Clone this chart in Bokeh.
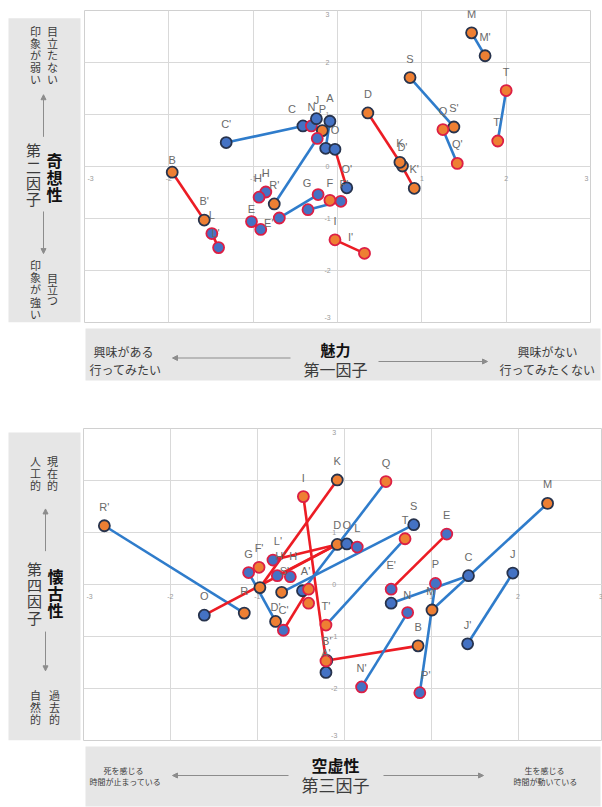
from bokeh.plotting import figure
from bokeh.layouts import column, row
from bokeh.models import Range1d, FixedTicker, Arrow, NormalHead, ColumnDataSource
from bokeh.core.properties import value
from bokeh.embed import file_html
from bokeh.resources import INLINE

# ---------------- data: factor 1 (魅力) x factor 2 (奇想性) ----------------
TOP_ID = ["B", "B'", "L", "L'", "C'", "C", "N", "J", "A", "P", "R", "A'", "O", "O'",
          "H", "H'", "E", "E'", "R'", "G'", "G", "F2", "F'", "F", "I", "I'",
          "M", "M'", "S", "S'", "Q", "Q'", "T", "T'", "D", "D'", "K", "K'"]
TOP_TEXT = ["B", "B'", "L", "L'", "C'", "C", "N", "J", "A", "P", "", "", "O", "O'",
            "H", "H'", "E", "E'", "R'", "", "G", "", "F'", "F", "I", "I'",
            "M", "M'", "S", "S'", "Q", "Q'", "T", "T'", "D", "D'", "K", "K'"]
TOP_X = [-1.96, -1.58, -1.49, -1.41, -1.32, -0.41, -0.31, -0.25, -0.09, -0.18, -0.24, -0.14, -0.03, 0.11,
         -0.85, -0.93, -1.02, -0.91, -0.75, -0.69, -0.23, -0.35, 0.04, -0.09, -0.03, 0.32,
         1.59, 1.75, 0.86, 1.38, 1.25, 1.42, 2.00, 1.90, 0.36, 0.77, 0.74, 0.91]
TOP_Y = [-0.11, -1.03, -1.29, -1.56, 0.46, 0.78, 0.78, 0.92, 0.87, 0.69, 0.54, 0.35, 0.33, -0.41,
         -0.49, -0.59, -1.06, -1.21, -0.72, -0.99, -0.54, -0.83, -0.67, -0.65, -1.41, -1.67,
         2.57, 2.13, 1.71, 0.76, 0.71, 0.06, 1.46, 0.49, 1.03, 0.01, 0.08, -0.42]
TOP_FILL = ["orange", "orange", "blue", "blue", "blue", "blue", "blue", "blue", "blue", "orange", "blue", "blue", "blue", "blue",
            "blue", "blue", "blue", "blue", "orange", "blue", "blue", "blue", "blue", "orange", "orange", "orange",
            "orange", "orange", "orange", "orange", "orange", "orange", "orange", "orange", "orange", "orange", "orange", "orange"]
TOP_EDGE = ["dark", "dark", "red", "red", "dark", "dark", "red", "dark", "dark", "dark", "red", "dark", "dark", "dark",
            "red", "red", "red", "red", "dark", "red", "red", "red", "red", "red", "red", "red",
            "dark", "dark", "dark", "dark", "red", "red", "red", "red", "dark", "dark", "dark", "dark"]
TOP_LINK_A = ["B", "L", "C'", "R", "G'", "F2", "I", "M", "S", "Q", "T", "D", "K", "O", "H", "E", "A"]
TOP_LINK_B = ["B'", "L'", "C", "R'", "G", "F'", "I'", "M'", "S'", "Q'", "T'", "D'", "K'", "O'", "H'", "E'", "A'"]
TOP_LINK_KIND = ["red", "red", "blue", "blue", "blue", "blue", "red", "blue", "blue", "blue", "blue",
                 "red", "red", "red", "red", "red", "blue"]

# ---------------- data: factor 3 (空虚性) x factor 4 (懐古性) ----------------
BOT_ID = ["R'", "R", "O", "F", "G", "F'", "L'", "H'", "H", "D'",
          "S'", "A'", "X", "C'", "C2", "I", "K", "T'", "B'", "A",
          "D", "Q'", "L", "Q", "S", "T", "E", "E'", "N", "P",
          "C", "M'", "M", "J", "J'", "N2", "N'", "B", "P'", "I'"]
BOT_TEXT = ["R'", "R", "O", "", "G", "F'", "L'", "H'", "H", "D'",
            "S'", "A'", "", "C'", "", "I", "K", "T'", "B'", "A'",
            "D", "O", "L", "Q", "S", "T", "E", "E'", "N", "P",
            "C", "M'", "M", "J", "J'", "", "N'", "B", "P'", ""]
BOT_X = [-2.76, -1.15, -1.61, -0.97, -1.10, -0.98, -0.82, -0.77, -0.62, -0.72,
         -0.48, -0.41, -0.41, -0.79, -0.70, -0.47, -0.08, -0.21, -0.20, -0.21,
         -0.08, 0.03, 0.15, 0.48, 0.80, 0.70, 1.18, 0.54, 0.54, 1.05,
         1.43, 1.01, 2.34, 1.94, 1.42, 0.73, 0.20, 0.85, 0.87, -0.21]
BOT_Y = [1.13, -0.55, -0.59, -0.06, 0.23, 0.33, 0.47, 0.17, 0.15, -0.15,
         -0.12, -0.09, -0.36, -0.71, -0.88, 1.69, 2.01, -0.78, -1.46, -1.69,
         0.77, 0.78, 0.72, 1.98, 1.15, 0.88, 0.97, -0.09, -0.36, 0.02,
         0.17, -0.49, 1.56, 0.22, -1.14, -0.54, -1.97, -1.18, -2.08, -1.47]
BOT_FILL = ["orange", "orange", "blue", "orange", "blue", "orange", "blue", "blue", "blue", "orange",
            "blue", "orange", "orange", "orange", "blue", "orange", "orange", "orange", "orange", "blue",
            "orange", "blue", "blue", "orange", "blue", "orange", "blue", "blue", "blue", "blue",
            "blue", "orange", "orange", "blue", "blue", "blue", "blue", "orange", "blue", "orange"]
BOT_EDGE = ["dark", "dark", "dark", "dark", "red", "red", "red", "red", "red", "dark",
            "dark", "red", "red", "dark", "red", "red", "dark", "red", "dark", "dark",
            "dark", "dark", "red", "red", "dark", "red", "red", "red", "dark", "red",
            "dark", "dark", "dark", "dark", "dark", "red", "red", "dark", "red", "red"]
BOT_LINK_A = ["R'", "O", "K", "I", "B", "E", "D", "D", "L", "C2", "G", "S", "Q", "T", "M", "N", "P", "J", "N'"]
BOT_LINK_B = ["R", "D", "F", "I'", "B'", "E'", "L'", "H'", "D", "A'", "C'", "D'", "S'", "T'", "M'", "C", "P'", "J'", "N2"]
BOT_LINK_KIND = ["blue", "red", "red", "red", "red", "red", "red", "red", "red", "red",
                 "blue", "blue", "blue", "blue", "blue", "blue", "blue", "blue", "blue"]

TICKS = [-3, -2, -1, 0, 1, 2, 3]
TICK_TEXT = ["-3", "-2", "-1", "0", "1", "2", "3"]

# ---------------- styling ----------------
JP = "Noto Sans CJK JP"
LAT = "Liberation Sans"
FILL_COLOR = {"orange": "#EE7F33", "blue": "#4472C4"}
EDGE_COLOR = {"dark": "#27334D", "red": "#DC1F45"}
LINE_COLOR = {"blue": "#2F7CCB", "red": "#EC1C24"}
PANEL = "#E6E6E6"
ARROW = "#8C8C8C"
TEXT = "#3C3C3C"

# label nudges in screen pixels (default: centred above the marker)
TOP_SHIFT = {"B": (0, -12), "C": (-11, -17), "A": (0, -23), "P": (0, -22), "G": (-11, -12),
             "I'": (-14, -16), "E": (0, -13), "E'": (8, -6), "L'": (-3, -15), "F": (0, -17), "F'": (3, -17)}
BOT_SHIFT = {"D'": (-6, 15), "E'": (0, -24), "N": (16, -8), "P'": (6, -18), "C'": (8, -11),
             "S'": (-18, -20), "A'": (-3, -18), "H'": (3, -20), "H": (3, -21), "L'": (5, -19), "R": (0, -22)}


def panel(w, h, y0):
    """Blank figure whose data units are page pixels (y grows downward)."""
    p = figure(width=w, height=h, x_range=Range1d(0, w), y_range=Range1d(y0 + h, y0),
               output_backend="svg", toolbar_location=None, title=None,
               x_axis_location=None, y_axis_location=None, min_border=0)
    p.grid.visible = False
    p.outline_line_color = None
    return p


def vtext(p, s, x, ytop, size, pitch, bold=False, color=TEXT):
    """Japanese text set vertically, one character per row."""
    chars = list(s)
    p.text(x=[x] * len(chars), y=[ytop + pitch * (i + 0.5) for i in range(len(chars))],
           text=chars, text_font=value(JP), text_font_size=f"{size}px",
           text_align="center", text_baseline="middle", text_color=color,
           text_font_style="bold" if bold else "normal")


def htext(p, s, x, y, size, bold=False, color=TEXT):
    p.text(x=[x], y=[y], text=[s], text_font=value(JP), text_font_size=f"{size}px",
           text_align="center", text_baseline="middle", text_color=color,
           text_font_style="bold" if bold else "normal")


def arrow(p, x0, y0, x1, y1):
    p.add_layout(Arrow(end=NormalHead(size=5, fill_color=ARROW, line_color=ARROW),
                       x_start=x0, y_start=y0, x_end=x1, y_end=y1,
                       line_color=ARROW, line_width=1))


def chart(w, h, xr, top, bottom, left, right, ids, texts, xs, ys, fills, edges,
          link_a, link_b, link_kind, shift, ylab_dx):
    p = figure(width=w, height=h, x_range=Range1d(*xr), y_range=Range1d(-3, 3),
               output_backend="svg", toolbar_location=None, title=None,
               x_axis_location=None, y_axis_location=None,
               min_border_top=top, min_border_bottom=bottom,
               min_border_left=left, min_border_right=right)
    p.xgrid.ticker = FixedTicker(ticks=TICKS)
    p.ygrid.ticker = FixedTicker(ticks=TICKS)
    p.grid.grid_line_color = "#D9D9D9"
    p.grid.grid_line_width = 1
    p.outline_line_color = "#D0D0D0"

    # tick labels sit on the zero lines; the end labels are pulled inside the frame
    xt = [t for t in TICKS if t != 0]
    p.text(x=xt, y=[0] * len(xt), text=[TICK_TEXT[TICKS.index(t)] for t in xt],
           x_offset=[6 if t == -3 else (-4 if t == 3 else 0) for t in xt],
           text_font=value(LAT), text_font_size="7px", text_color="#9A9A9A",
           text_align="center", text_baseline="middle", y_offset=12)
    p.text(x=[0] * len(TICKS), y=TICKS, text=TICK_TEXT, text_font=value(LAT),
           y_offset=[-5 if t == -3 else (4 if t == 3 else 0) for t in TICKS],
           text_font_size="7px", text_color="#9A9A9A", text_align="center",
           text_baseline="middle", x_offset=ylab_dx)

    pos = {k: (x, y) for k, x, y in zip(ids, xs, ys)}
    p.segment(x0=[pos[a][0] for a in link_a], y0=[pos[a][1] for a in link_a],
              x1=[pos[b][0] for b in link_b], y1=[pos[b][1] for b in link_b],
              line_color=[LINE_COLOR[k] for k in link_kind], line_width=2.6)

    p.scatter(x=xs, y=ys, size=11, fill_color=[FILL_COLOR[f] for f in fills],
              line_color=[EDGE_COLOR[e] for e in edges], line_width=1.8)

    src = ColumnDataSource(dict(
        x=xs, y=ys, t=texts,
        dx=[shift.get(k, (0, -19))[0] for k in ids],
        dy=[shift.get(k, (0, -19))[1] for k in ids]))
    p.text(x="x", y="y", text="t", x_offset="dx", y_offset="dy", source=src,
           text_font=value(LAT), text_font_size="11px", text_color="#6A6A6A",
           text_align="center", text_baseline="middle")
    return p


# ---------------- upper block ----------------
left_a = panel(84, 326, 0)
left_a.quad(left=8, right=80, top=8, bottom=326, fill_color=PANEL, line_color=None)
vtext(left_a, "目立たない", 52, 15, 11, 12.6)
vtext(left_a, "印象が弱い", 35, 15, 11, 12.6)
arrow(left_a, 43, 132, 43, 88)
vtext(left_a, "奇想性", 54, 147, 16, 17.7, bold=True, color="#111111")
vtext(left_a, "第二因子", 33, 137, 15, 17)
arrow(left_a, 43, 210, 43, 254)
vtext(left_a, "目立つ", 52, 273, 11, 12)
vtext(left_a, "印象が強い", 35, 260, 11, 12.6)

chart_a = chart(518, 326, (-3, 3), 10, 4, 0, 12, TOP_ID, TOP_TEXT, TOP_X, TOP_Y,
                TOP_FILL, TOP_EDGE, TOP_LINK_A, TOP_LINK_B, TOP_LINK_KIND, TOP_SHIFT, -10)

axis_b = panel(602, 56, 326)
axis_b.quad(left=85, right=600, top=328, bottom=380, fill_color=PANEL, line_color=None)
htext(axis_b, "興味がある", 123, 351, 12)
htext(axis_b, "行ってみたい", 125, 369, 12)
arrow(axis_b, 290, 357.5, 172, 357.5)
htext(axis_b, "魅力", 335, 349, 15, bold=True, color="#111111")
htext(axis_b, "第一因子", 335, 368, 16)
arrow(axis_b, 378, 361, 487, 361)
htext(axis_b, "興味がない", 547, 351, 12)
htext(axis_b, "行ってみたくない", 547, 369, 12)

gap = panel(602, 44, 382)

# ---------------- lower block ----------------
left_d = panel(83, 318, 426)
left_d.quad(left=8, right=80, top=430, bottom=744, fill_color=PANEL, line_color=None)
vtext(left_d, "現在的", 52, 453, 11, 12.3)
vtext(left_d, "人工的", 35, 453, 11, 12.3)
arrow(left_d, 45, 551, 45, 508)
vtext(left_d, "懐古性", 55, 567, 16, 17.7, bold=True, color="#111111")
vtext(left_d, "第四因子", 34, 560, 15, 16.7)
arrow(left_d, 45, 633, 45, 673)
vtext(left_d, "過去的", 54, 692, 11, 12)
vtext(left_d, "自然的", 35, 692, 11, 12)

chart_d = chart(519, 318, (-3, 2.972), 2, 4, 0, 0, BOT_ID, BOT_TEXT, BOT_X, BOT_Y,
                BOT_FILL, BOT_EDGE, BOT_LINK_A, BOT_LINK_B, BOT_LINK_KIND, BOT_SHIFT, -10)

axis_e = panel(602, 63, 744)
axis_e.quad(left=85, right=600, top=746, bottom=806, fill_color=PANEL, line_color=None)
htext(axis_e, "死を感じる", 123, 770, 8)
htext(axis_e, "時間が止まっている", 125, 780.5, 8)
arrow(axis_e, 288, 775, 172, 775)
htext(axis_e, "空虚性", 335, 764, 16, bold=True, color="#111111")
htext(axis_e, "第三因子", 335, 784, 17)
arrow(axis_e, 383, 775, 483, 775)
htext(axis_e, "生を感じる", 544, 770, 8)
htext(axis_e, "時間が動いている", 545, 780.5, 8)

page = column(row(left_a, chart_a), axis_b, gap, row(left_d, chart_d), axis_e)

with open("out.html", "w") as f:
    f.write(file_html(page, INLINE))
